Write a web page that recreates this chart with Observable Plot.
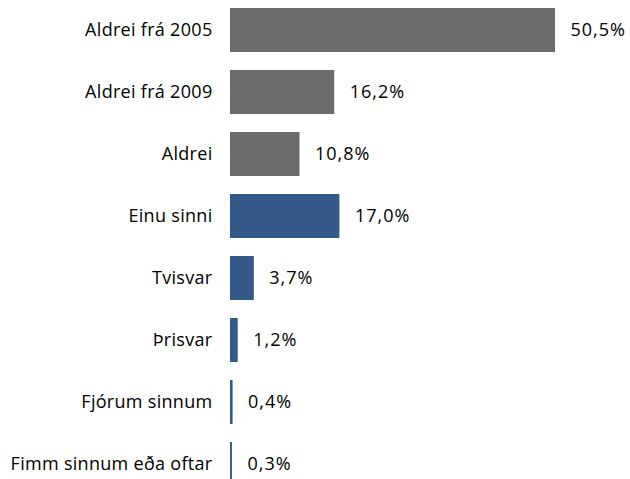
<!DOCTYPE html>
<html>
<head>
<meta charset="utf-8">
<script src="https://cdn.jsdelivr.net/npm/d3@7"></script>
<script src="https://cdn.jsdelivr.net/npm/@observablehq/plot@0.6"></script>
<style>
  html, body { margin: 0; padding: 0; background: #fff; }
  #chart { width: 630px; height: 479px; overflow: hidden; }
  .vals text { letter-spacing: 1px; }
  .cats text { letter-spacing: 0.3px; }
</style>
</head>
<body>
<div id="chart"></div>
<script>
const categories = ["Aldrei frá 2005", "Aldrei frá 2009", "Aldrei", "Einu sinni", "Tvisvar", "Þrisvar", "Fjórum sinnum", "Fimm sinnum eða oftar"];
const values = [50.5, 16.2, 10.8, 17.0, 3.7, 1.2, 0.4, 0.3];
const groups = ["aldrei", "aldrei", "aldrei", "sinnum", "sinnum", "sinnum", "sinnum", "sinnum"];
const groupColors = ["#6b6b6b", "#355a87"];

const data = categories.map((c, i) => ({category: c, value: values[i], group: groups[i]}));
const fmt = v => v.toFixed(1).replace(".", ",") + "%";

const chart = Plot.plot({
  width: 630,
  height: 479,
  marginLeft: 230,
  marginRight: 75,
  marginTop: 0,
  marginBottom: 0,
  style: {fontFamily: "'Open Sans', sans-serif", fontSize: "18px", color: "#000", background: "#fff"},
  x: {domain: [0, 50.5], axis: null},
  y: {domain: categories, range: [7.5, 486.3], paddingInner: 0.29, paddingOuter: 0, label: null},
  color: {domain: ["aldrei", "sinnum"], range: groupColors},
  marks: [
    Plot.barX(data, {x: "value", y: "category", fill: "group"}),
    Plot.text(data, {x: "value", y: "category", text: d => fmt(d.value), dx: 15, textAnchor: "start", fill: "#000", fontSize: 18, className: "vals"}),
    Plot.axisY({tickSize: 0, tickPadding: 18, fontSize: 18, label: null, className: "cats"})
  ]
});
document.getElementById("chart").appendChild(chart);
</script>
</body>
</html>
